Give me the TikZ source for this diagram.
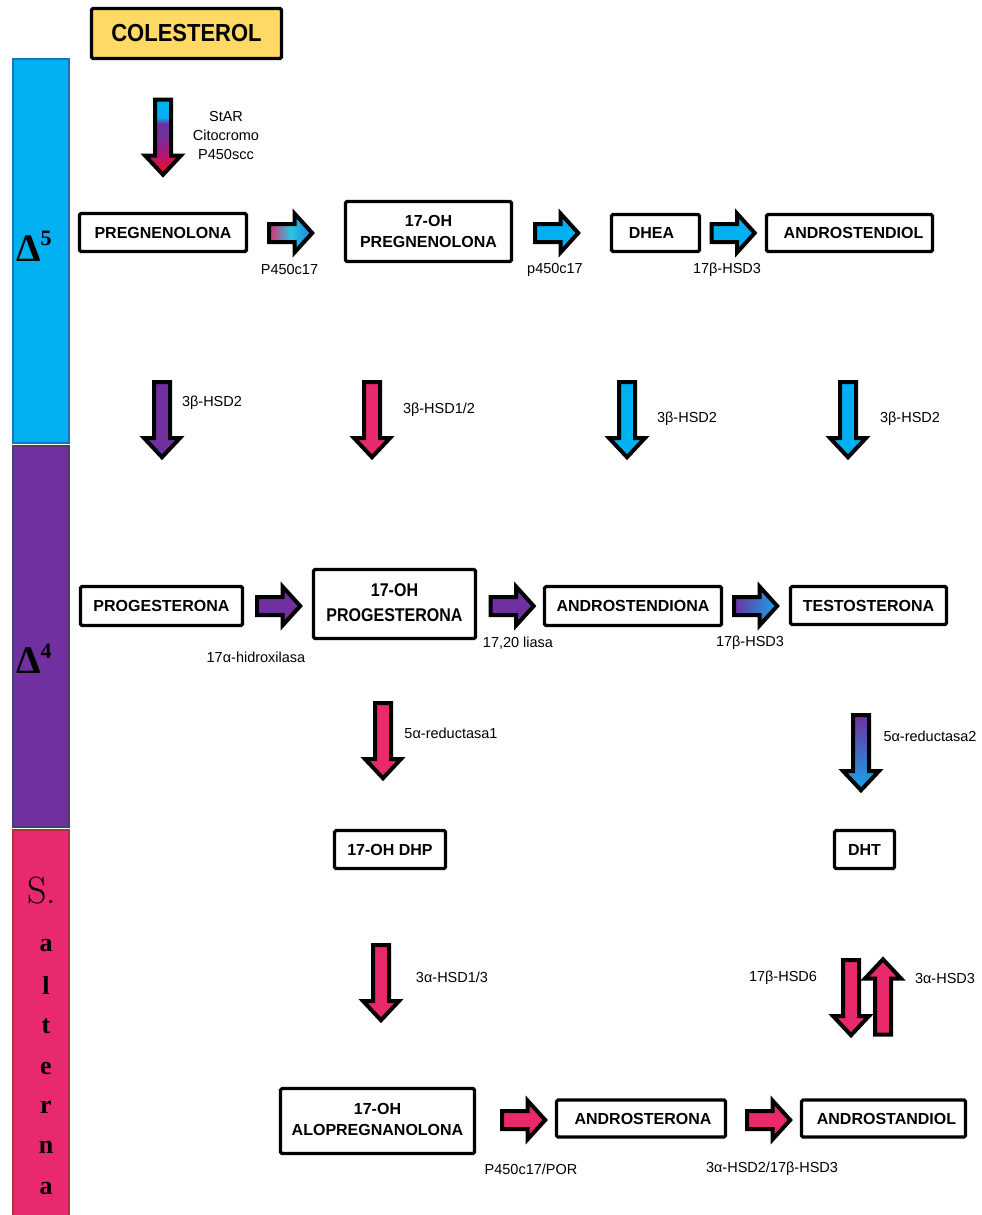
\documentclass[tikz,border=0pt]{standalone}
\usepackage{fontspec}
\newfontfamily\lsans{Liberation Sans}
\newfontfamily\lserif{Liberation Serif}
\definecolor{mycyan}{HTML}{00B0F0}
\definecolor{cyanedge}{HTML}{1F70C0}
\definecolor{mypurple}{HTML}{7030A0}
\definecolor{purpleedge}{HTML}{4B3C6C}
\definecolor{mypink}{HTML}{E9296E}
\definecolor{pinkedge}{HTML}{A8363F}
\definecolor{myyellow}{HTML}{FFD966}
\definecolor{myred}{HTML}{E8102A}
\definecolor{mymag}{HTML}{A8187C}
\definecolor{midcyan}{HTML}{28C6E2}
\definecolor{tipblue}{HTML}{1E80E2}
\definecolor{lightblue}{HTML}{16A6EA}
\pgfdeclareverticalshading{starshade}{100bp}{color(0bp)=(myred); color(28bp)=(myred); color(40bp)=(mymag); color(52bp)=(mypurple); color(59bp)=(mypurple); color(63bp)=(mycyan); color(100bp)=(mycyan)}
\tikzset{
  box/.style={draw=black, line width=3.2pt, rounded corners=1.5pt, fill=white, inner sep=0pt, align=center, font=\lsans\bfseries\fontsize{16}{21}\selectfont},
  lab/.style={font=\lsans\fontsize{14.5}{19}\selectfont, inner sep=0pt, align=center},
  vlet/.style={font=\lserif\bfseries\fontsize{26}{26}\selectfont, inner sep=0pt},
  arr/.style={draw=black, line width=4pt, line join=miter},
  rarr/.pic={\path[pic actions] (-22,-9) -- (3.5,-9) -- (3.5,-19.5) -- (21.2,0) -- (3.5,19.5) -- (3.5,9) -- (-22,9) -- cycle;},
  darr/.pic={\path[pic actions] (-8,-38) -- (8,-38) -- (8,18) -- (18,18) -- (0,37.2) -- (-18,18) -- (-8,18) -- cycle;}
}
\begin{document}
\begin{tikzpicture}[x=1pt,y=-1pt]
\useasboundingbox (0,0) rectangle (982,1215);
% side bars
\path[draw=cyanedge, line width=2pt, fill=mycyan] (13,59) rectangle (69,443);
\path[draw=purpleedge, line width=2pt, fill=mypurple] (13,446) rectangle (69,827);
\path[draw=pinkedge, line width=2pt, fill=mypink] (13,830) rectangle (69,1218);
\node[inner sep=0pt, anchor=base west] (delta5) at (16,261) {\lserif\bfseries\fontsize{39}{39}\selectfont Δ\raisebox{16pt}{\fontsize{22}{22}\selectfont 5}};
\node[inner sep=0pt, anchor=base west] (delta4) at (16,673) {\lserif\bfseries\fontsize{39}{39}\selectfont Δ\raisebox{15pt}{\fontsize{22}{22}\selectfont 4}};
\node[inner sep=0pt, anchor=base] (sdot) at (42,903) {\fontsize{38}{38}\selectfont S.};
\foreach \c/\yy [count=\i] in {a/951, l/994, t/1033, e/1074, r/1113, n/1153, a/1194}
  \node[vlet, anchor=base] (v\i) at (46,\yy) {\c};
% boxes
\node[box, fill=myyellow, minimum width=190pt, minimum height=50pt, font=\lsans\bfseries\fontsize{22}{22}\selectfont] (col) at (186.5,33.5) {\scalebox{1}[1.12]{COLESTEROL}};
\node[box, minimum width=167pt, minimum height=38pt] (preg) at (163,232.5) {PREGNENOLONA};
\node[box, minimum width=166pt, minimum height=60pt] (ohpreg) at (428.5,231.5) {17-OH\\PREGNENOLONA};
\node[box, minimum width=88pt, minimum height=37pt] (dhea) at (655.5,233) {DHEA\hspace{8pt}};
\node[box, minimum width=166pt, minimum height=37pt] (adiol) at (849.5,233) {\hspace{8pt}ANDROSTENDIOL};
\node[box, minimum width=162pt, minimum height=39pt] (prog) at (161.5,606) {PROGESTERONA};
\node[box, minimum width=162pt, minimum height=69pt] (ohprog) at (394.5,604) {\raisebox{-4pt}{\scalebox{1}[1.15]{\begin{tabular}{@{}c@{}}17-OH\\[0.5pt]PROGESTERONA\end{tabular}}}};
\node[box, minimum width=177pt, minimum height=39pt] (adiona) at (633,606) {ANDROSTENDIONA};
\node[box, minimum width=156pt, minimum height=38pt] (testo) at (868.5,605.5) {TESTOSTERONA};
\node[box, minimum width=111pt, minimum height=38pt] (dhp) at (390,849.5) {17-OH DHP};
\node[box, minimum width=60pt, minimum height=38pt] (dht) at (864.5,849.5) {DHT};
\node[box, minimum width=194pt, minimum height=65pt] (alo) at (377.5,1121) {\raisebox{-5pt}{\begin{tabular}{@{}c@{}}17-OH\\ALOPREGNANOLONA\end{tabular}}};
\node[box, minimum width=169pt, minimum height=37pt] (asterona) at (641,1118.5) {\hspace{4pt}ANDROSTERONA};
\node[box, minimum width=164pt, minimum height=37pt] (astandiol) at (883.5,1118.5) {\hspace{6pt}ANDROSTANDIOL};
% block arrows
\pic[arr, shade, shading=starshade] (a0) at (163,137.5) {darr};
\pic[arr, left color=mypink, right color=tipblue, middle color=midcyan] (r1) at (291,233) {rarr};
\pic[arr, fill=mycyan] (r2) at (557,233) {rarr};
\pic[arr, fill=mycyan] (r3) at (733.5,233) {rarr};
\pic[arr, fill=mypurple] (d1) at (162,420) {darr};
\pic[arr, fill=mypink] (d2) at (372,420) {darr};
\pic[arr, fill=mycyan] (d3) at (627,420) {darr};
\pic[arr, fill=mycyan] (d4) at (848,420) {darr};
\pic[arr, fill=mypurple] (r4) at (279,606) {rarr};
\pic[arr, fill=mypurple] (r5) at (512.5,606) {rarr};
\pic[arr, left color=mypurple, right color=lightblue] (r6) at (756,606) {rarr};
\pic[arr, fill=mypink] (d5) at (383,741) {darr};
\pic[arr, top color=mypurple, bottom color=lightblue] (d6) at (861,753) {darr};
\pic[arr, fill=mypink] (d7) at (381,983) {darr};
\pic[arr, fill=mypink] (d8) at (851,998) {darr};
\pic[arr, fill=mypink, rotate=180] (u1) at (883,996.5) {darr};
\pic[arr, fill=mypink] (r7) at (524,1120) {rarr};
\pic[arr, fill=mypink] (r8) at (769,1120) {rarr};
% labels
\node[lab] (l0) at (226,136) {StAR\\Citocromo\\P450scc};
\node[lab] (l1) at (289.5,270) {P450c17};
\node[lab] (l2) at (555,270) {p450c17};
\node[lab] (l3) at (727,270) {17β-HSD3};
\node[lab] (l4) at (212,403) {3β-HSD2};
\node[lab] (l5) at (439,410) {3β-HSD1/2};
\node[lab] (l6) at (687,419) {3β-HSD2};
\node[lab] (l7) at (910,419) {3β-HSD2};
\node[lab] (l8) at (256,657) {17α-hidroxilasa};
\node[lab] (l9) at (518,643) {17,20 liasa};
\node[lab] (l10) at (750,643) {17β-HSD3};
\node[lab] (l11) at (451,733) {5α-reductasa1};
\node[lab] (l12) at (930,736) {5α-reductasa2};
\node[lab] (l13) at (452,977) {3α-HSD1/3};
\node[lab] (l14) at (783,978) {17β-HSD6};
\node[lab] (l15) at (945,978) {3α-HSD3};
\node[lab] (l16) at (531,1169) {P450c17/POR};
\node[lab] (l17) at (772,1169) {3α-HSD2/17β-HSD3};
\end{tikzpicture}
\end{document}
